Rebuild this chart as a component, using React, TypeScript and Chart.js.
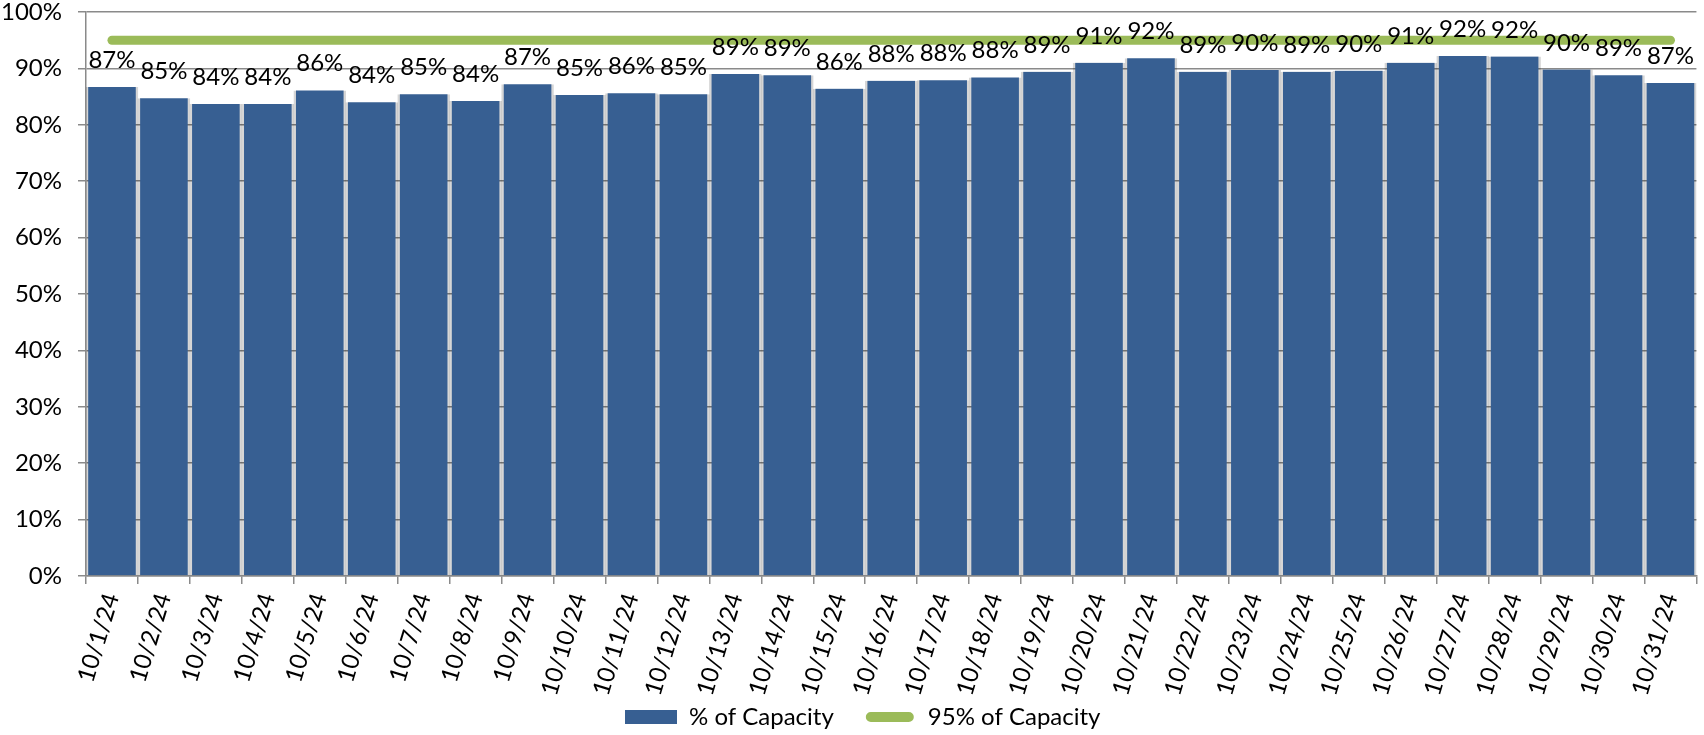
import React, { useEffect, useRef } from "react";
import { Chart, registerables } from "chart.js";

Chart.register(...registerables);

const categories: string[] = [
  "10/1/24", "10/2/24", "10/3/24", "10/4/24", "10/5/24", "10/6/24", "10/7/24", "10/8/24",
  "10/9/24", "10/10/24", "10/11/24", "10/12/24", "10/13/24", "10/14/24", "10/15/24", "10/16/24",
  "10/17/24", "10/18/24", "10/19/24", "10/20/24", "10/21/24", "10/22/24", "10/23/24", "10/24/24",
  "10/25/24", "10/26/24", "10/27/24", "10/28/24", "10/29/24", "10/30/24", "10/31/24",
];

const capacityPct: number[] = [
  86.7, 84.7, 83.7, 83.7, 86.1, 84.0, 85.4, 84.2,
  87.2, 85.3, 85.6, 85.4, 89.0, 88.8, 86.4, 87.8,
  87.9, 88.4, 89.4, 91.0, 91.8, 89.4, 89.7, 89.4,
  89.6, 91.0, 92.2, 92.1, 89.8, 88.8, 87.4,
];

const targetPct: number[] = [
  95, 95, 95, 95, 95, 95, 95, 95, 95, 95, 95, 95, 95, 95, 95, 95,
  95, 95, 95, 95, 95, 95, 95, 95, 95, 95, 95, 95, 95, 95, 95,
];

const seriesNames: string[] = ["% of Capacity", "95% of Capacity"];
const yTicks: number[] = [0, 10, 20, 30, 40, 50, 60, 70, 80, 90, 100];

const BAR = "#375F92";
const GREEN = "#9BBB59";
const GRID = "#8a8a8a";
const FONT = "Lato";
const FS = 24;
const LEGEND_PAD = 30;

const barLabels = {
  id: "barLabels",
  afterDatasetsDraw(chart: any) {
    const meta = chart.getDatasetMeta(0);
    const ctx = chart.ctx;
    ctx.save();
    ctx.font = `${FS}px ${FONT}`;
    ctx.fillStyle = "#000";
    ctx.textAlign = "center";
    ctx.textBaseline = "alphabetic";
    meta.data.forEach((el: any, i: number) => {
      ctx.fillText(Math.round(capacityPct[i]) + "%", el.x, el.y - 19);
    });
    ctx.restore();
  },
};

const layoutTweaks = {
  id: "layoutTweaks",
  afterLayout(chart: any) {
    const l = chart.legend;
    if (l) {
      l.left = 625 - LEGEND_PAD;
      l.top += 4;
      l.bottom += 4;
    }
    const x = chart.scales.x;
    if (x) x.bottom = chart.height;
  },
};

export default function App() {
  const ref = useRef<HTMLCanvasElement | null>(null);

  useEffect(() => {
    if (!ref.current) return;
    Chart.defaults.font.family = FONT;
    const chart = new Chart(ref.current, {
      type: "bar",
      data: {
        labels: categories,
        datasets: [
          {
            type: "bar",
            label: seriesNames[0],
            data: capacityPct,
            backgroundColor: BAR,
            borderColor: "rgba(0,0,0,0.16)",
            borderWidth: { left: 2.5, right: 2.5, top: 0, bottom: 0 },
            borderSkipped: false,
            barPercentage: 1,
            categoryPercentage: 1,
            order: 1,
          },
          {
            type: "line",
            label: seriesNames[1],
            data: targetPct,
            borderColor: GREEN,
            backgroundColor: GREEN,
            borderWidth: 9,
            borderCapStyle: "round",
            pointRadius: 0,
            pointHoverRadius: 0,
            fill: false,
            order: 0,
          },
        ] as any,
      },
      options: {
        animation: false,
        responsive: true,
        maintainAspectRatio: false,
        layout: { padding: { top: 12, right: 0, left: 0, bottom: 0 } },
        plugins: {
          tooltip: { enabled: false },
          legend: {
            position: "bottom",
            align: "start",
            labels: {
              color: "#000",
              font: { size: FS, family: FONT },
              boxWidth: 52,
              boxHeight: 14,
              padding: LEGEND_PAD,
              generateLabels: () => [
                {
                  text: seriesNames[0],
                  fillStyle: BAR,
                  strokeStyle: BAR,
                  lineWidth: 0,
                  hidden: false,
                  datasetIndex: 0,
                  fontColor: "#000",
                } as any,
                {
                  text: seriesNames[1],
                  fillStyle: GREEN,
                  strokeStyle: "#fff",
                  lineWidth: 4,
                  borderRadius: 7,
                  hidden: false,
                  datasetIndex: 1,
                  fontColor: "#000",
                } as any,
              ],
            },
          },
        },
        scales: {
          x: {
            offset: true,
            grid: {
              display: true,
              offset: true,
              drawOnChartArea: false,
              drawTicks: true,
              tickLength: 8,
              color: GRID,
              lineWidth: 1.5,
            },
            border: { display: true, color: GRID, width: 1.5 },
            ticks: {
              autoSkip: false,
              minRotation: 73,
              maxRotation: 73,
              padding: 6,
              color: "#000",
              font: { size: FS, family: FONT },
            },
            afterFit: (scale: any) => {
              scale.height = 735 - 576 - (FS + LEGEND_PAD + 10);
            },
          },
          y: {
            min: 0,
            max: 100,
            afterBuildTicks: (scale: any) => {
              scale.ticks = yTicks.map((v) => ({ value: v }));
            },
            grid: {
              color: GRID,
              lineWidth: 1.5,
              tickLength: 8,
              drawTicks: true,
            },
            border: { display: true, color: GRID, width: 1.5 },
            ticks: {
              padding: 16,
              color: "#000",
              font: { size: FS, family: FONT },
              callback: (v: any) => v + "%",
            },
            afterFit: (scale: any) => {
              scale.width = 86;
              scale.paddingTop = 0;
              scale.paddingBottom = 0;
            },
          },
        },
      },
      plugins: [barLabels, layoutTweaks],
    });
    return () => chart.destroy();
  }, []);

  return (
    <div style={{ position: "fixed", left: 0, top: 0, width: 1704, height: 735, background: "#fff" }}>
      <canvas ref={ref} />
    </div>
  );
}
